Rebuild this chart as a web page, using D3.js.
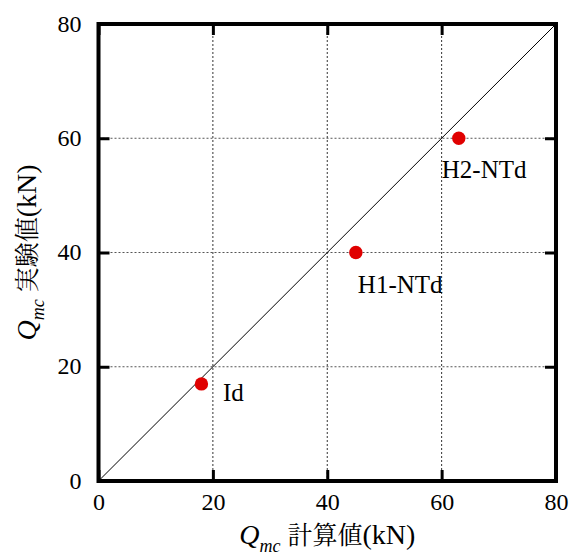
<!DOCTYPE html>
<html><head><meta charset="utf-8">
<script src="https://cdn.jsdelivr.net/npm/d3@7"></script>
<style>body{margin:0;background:#fff}</style>
</head><body>
<script>
// Data
const specimens = ["Id", "H1-NTd", "H2-NTd"];
const calcValues = [18, 45, 63];   // Qmc 計算値 (kN)
const expValues = [17, 40, 60];    // Qmc 実験値 (kN)
const tickValues = [0, 20, 40, 60, 80];
const gridValues = [20, 40, 60];
// label placement (pixels, relative to point)
const labelOffsets = [[21.5, 17], [2, 40], [-17, 40]];

(function () {
const W = 577, H = 553;
const svg = d3.select("body").append("svg").attr("width", W).attr("height", H);
const x = d3.scaleLinear().domain([0, 80]).range([98.5, 556]);
const y = d3.scaleLinear().domain([0, 80]).range([481, 24]);
const serif = "'Liberation Serif','Times New Roman',serif";
const cjk = "'Noto Serif CJK JP','Noto Sans CJK JP',serif";

// grid
svg.append("g").selectAll("line").data(gridValues).join("line")
  .attr("x1", d => x(d)).attr("x2", d => x(d)).attr("y1", y(80)).attr("y2", y(0))
  .attr("stroke", "#333").attr("stroke-width", 1).attr("stroke-dasharray", "2,2");
svg.append("g").selectAll("line").data(gridValues).join("line")
  .attr("y1", d => y(d)).attr("y2", d => y(d)).attr("x1", x(0)).attr("x2", x(80))
  .attr("stroke", "#555").attr("stroke-width", 1).attr("stroke-dasharray", "2,2");

// diagonal
svg.append("line").attr("x1", x(0)).attr("y1", y(0)).attr("x2", x(80)).attr("y2", y(80))
  .attr("stroke", "#000").attr("stroke-width", 1);

// axes with inward ticks on all four sides
const tl = 11;
const fmt = d3.format("d");
const gBottom = svg.append("g").attr("transform", `translate(0,${y(0)})`)
  .call(d3.axisBottom(x).tickValues(tickValues).tickSize(-tl).tickFormat(fmt));
const gLeft = svg.append("g").attr("transform", `translate(${x(0)},0)`)
  .call(d3.axisLeft(y).tickValues(tickValues).tickSize(-tl).tickFormat(fmt));
const gTop = svg.append("g").attr("transform", `translate(0,${y(80)})`)
  .call(d3.axisTop(x).tickValues(tickValues).tickSize(-tl).tickFormat(""));
const gRight = svg.append("g").attr("transform", `translate(${x(80)},0)`)
  .call(d3.axisRight(y).tickValues(tickValues).tickSize(-tl).tickFormat(""));
[gBottom, gLeft, gTop, gRight].forEach(g => {
  g.select(".domain").remove();
  g.selectAll(".tick line").attr("stroke", "#000").attr("stroke-width", 3);
  g.selectAll(".tick text").attr("font-family", serif).attr("font-size", 24).attr("fill", "#000");
});
gBottom.selectAll(".tick text").attr("dy", null).attr("y", 29);
gLeft.selectAll(".tick text").attr("dy", null).attr("x", -17).attr("y", 7);

// frame
svg.append("rect").attr("x", x(0)).attr("y", y(80)).attr("width", x(80) - x(0)).attr("height", y(0) - y(80))
  .attr("fill", "none").attr("stroke", "#000").attr("stroke-width", 4);

// points
const pts = specimens.map((s, i) => ({ name: s, cx: calcValues[i], ey: expValues[i], off: labelOffsets[i] }));
svg.append("g").selectAll("circle").data(pts).join("circle")
  .attr("cx", d => x(d.cx)).attr("cy", d => y(d.ey)).attr("r", 6.7).attr("fill", "#e00000");
svg.append("g").selectAll("text").data(pts).join("text")
  .attr("x", d => x(d.cx) + d.off[0]).attr("y", d => y(d.ey) + d.off[1])
  .attr("font-family", serif).attr("font-size", 25).attr("fill", "#000").text(d => d.name);

// axis titles
function title(g, label) {
  const t = g.append("text").attr("text-anchor", "middle").attr("font-family", serif).attr("font-size", 28).attr("fill", "#000");
  t.append("tspan").attr("font-style", "italic").attr("font-size", 28).text("Q");
  t.append("tspan").attr("font-style", "italic").attr("font-size", 18).attr("dy", 8).text("mc");
  t.append("tspan").attr("dy", -8).attr("dx", 7).attr("font-family", cjk).attr("font-size", 25).text(label);
  t.append("tspan").attr("font-size", 28).text("(kN)");
  return t;
}
title(svg.append("g").attr("transform", `translate(${(x(0) + x(80)) / 2},544)`), "計算値");
title(svg.append("g").attr("transform", `translate(36,${(y(0) + y(80)) / 2}) rotate(-90)`), "実験値");
})();
</script>
</body></html>
